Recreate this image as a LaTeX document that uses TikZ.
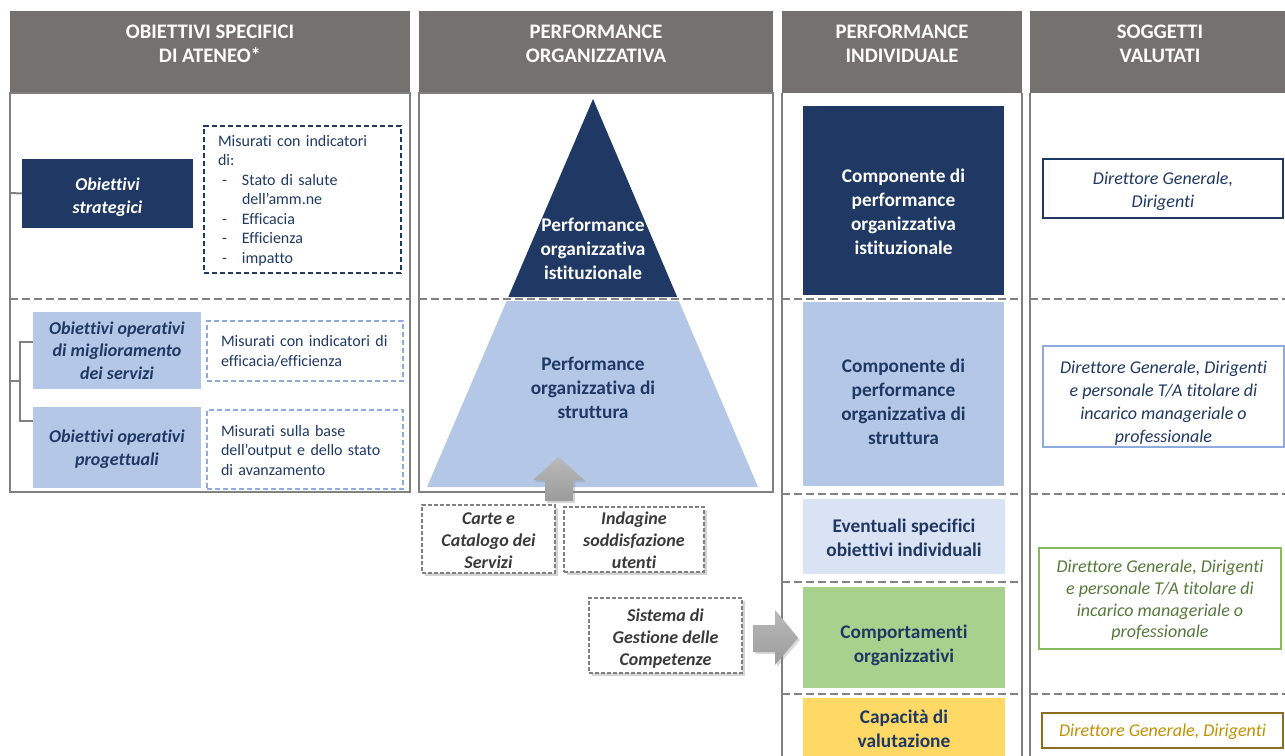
\documentclass[tikz,border=0pt]{standalone}
\usepackage{fontspec}
\setmainfont{Carlito}[Ligatures=NoCommon]
\usetikzlibrary{shadows,calc}
\definecolor{navy}{HTML}{1F3864}
\definecolor{lblue}{HTML}{B4C7E7}
\definecolor{vlblue}{HTML}{DAE3F3}
\definecolor{mblue}{HTML}{8FAADC}
\definecolor{lgreen}{HTML}{A9D18E}
\definecolor{bgreen}{HTML}{86BA5E}
\definecolor{tgreen}{HTML}{55793A}
\definecolor{yell}{HTML}{FFD966}
\definecolor{gold}{HTML}{BF9000}
\definecolor{dgold}{HTML}{8C6D1F}
\definecolor{hdrgray}{HTML}{767171}
\definecolor{bgray}{HTML}{808080}
\definecolor{tgray}{HTML}{3A3A3A}
% box node (#1) from (#2,#3) to (#4,#5), box style #6, text style #7, text y-offset #8 (px), text #9
\newcommand{\bxt}[9]{%
  \node[#6, minimum width={(#4-#2)*0.75pt}, minimum height={(#5-#3)*0.75pt}, inner sep=0pt, outer sep=0pt] (#1) at ({(#2+#4)/2},{(#3+#5)/2}) {};
  \node[#7, inner sep=0pt] (#1-t) at ({(#2+#4)/2},{(#3+#5)/2+#8}) {#9};}
\newcommand{\itm}{\leavevmode\hbox to 18pt{\hspace{3pt}-\hfil}}
\begin{document}
\begin{tikzpicture}[x=0.75pt,y=-0.75pt,
  hdr/.style={fill=hdrgray, draw=none},
  hdrtext/.style={text=white, font=\bfseries\fontsize{15.5}{18}\selectfont, align=center},
  frame/.style={draw=bgray, line width=1.5pt},
  sep/.style={draw=bgray, line width=1.8pt, dash pattern=on 6pt off 3pt},
  darkbox/.style={fill=navy, draw=none},
  litebox/.style={fill=lblue, draw=none},
  wtext/.style={text=white, align=center},
  ntext/.style={text=navy, align=center},
  objfont/.style={font=\bfseries\itshape\fontsize{13.5}{17}\selectfont},
  compfont/.style={font=\bfseries\fontsize{14.5}{18}\selectfont},
  measbox/.style={draw=navy, line width=1.5pt, dash pattern=on 4pt off 2pt},
  measlbox/.style={draw=mblue, line width=1.5pt, dash pattern=on 4pt off 2pt},
  meastext/.style={text=navy, align=left, font=\fontsize{12}{14.6}\selectfont},
  srcbox/.style={draw=bgray, fill=white, line width=1pt, dash pattern=on 3pt off 1.5pt, drop shadow={shadow xshift=2pt, shadow yshift=-2pt, opacity=0.35}},
  srctext/.style={text=tgray, align=center, font=\bfseries\itshape\fontsize{13.5}{16.5}\selectfont},
  subjfont/.style={font=\itshape\fontsize{13.5}{17.25}\selectfont, align=center},
  link/.style={draw=bgray, line width=1.5pt},
  bigarrow/.style={top color=gray!55, bottom color=gray!78, draw=none, drop shadow={shadow xshift=1.5pt, shadow yshift=-1.5pt, opacity=0.3}}
]
\useasboundingbox (0,0) rectangle (1285,756);

% ---------- headers ----------
\bxt{h1}{10}{11}{410}{93}{hdr}{hdrtext}{-8}{OBIETTIVI SPECIFICI\\DI ATENEO*}
\bxt{h2}{419}{11}{773}{93}{hdr}{hdrtext}{-8}{PERFORMANCE\\ORGANIZZATIVA}
\bxt{h3}{782}{11}{1022}{93}{hdr}{hdrtext}{-8}{PERFORMANCE\\INDIVIDUALE}
\bxt{h4}{1030}{11}{1290}{93}{hdr}{hdrtext}{-8}{SOGGETTI\\VALUTATI}

% ---------- frames ----------
\draw[frame] (10,93) rectangle (410,492);
\draw[frame] (419,93) rectangle (773,492);
\draw[frame] (782,93) -- (782,756);
\draw[frame] (1022,93) -- (1022,756);
\draw[frame] (1030,93) -- (1030,756);

% ---------- column 1 ----------
\bxt{os}{22}{159}{193}{228}{darkbox}{wtext,objfont}{3.5}{Obiettivi\\strategici}
\bxt{m1}{204}{126}{401}{273}{measbox}{meastext, text width={(401-204-28)*0.75pt}}{1}{Misurati con indicatori\\di:\\\itm Stato di salute\\\hspace*{18pt}dell’amm.ne\\\itm Efficacia\\\itm Efficienza\\\itm impatto}
\coordinate (l0) at (10,193);
\draw[link] (l0) -- (os.west);

\bxt{oo1}{33}{312}{201}{389}{litebox}{ntext,objfont}{0}{Obiettivi operativi\\di miglioramento\\dei servizi}
\bxt{oo2}{33}{407}{201}{488}{litebox}{ntext,objfont}{1.5}{Obiettivi operativi\\progettuali}
\bxt{m2}{207}{321}{403}{381}{measlbox}{meastext, text width={(403-207-28)*0.75pt}}{0.5}{Misurati con indicatori di\\efficacia/efficienza}
\bxt{m3}{207}{410}{403}{489}{measlbox}{meastext, text width={(403-207-28)*0.75pt}}{1}{Misurati sulla base\\dell’output e dello stato\\di avanzamento}
\coordinate (l1) at (10,381);
\coordinate (bk) at (20,381);
\draw[link] (l1) -- (bk);
\draw[link] (oo1.west |- 0,342) -| (bk) |- (oo2.west |- 0,421);

% ---------- column 2 : pyramid ----------
\fill[navy] (593,99) -- (508.3,297) -- (677.2,297) -- cycle;
\fill[lblue] (506.6,301) -- (678.9,301) -- (758,487) -- (427,487) -- cycle;
\node[wtext, compfont] (pi) at (593,249) {Performance\\organizzativa\\istituzionale};
\node[ntext, compfont] (ps) at (593,388) {Performance\\organizzativa di\\struttura};

% up arrow
\path[bigarrow] (545,501) -- (545,480) -- (533,480) -- (558.5,457) -- (584,480) -- (573,480) -- (573,501) -- cycle;

\bxt{s1}{422}{505}{555}{573}{srcbox}{srctext}{1.5}{Carte e\\Catalogo dei\\Servizi}
\bxt{s2}{564}{507}{704}{572}{srcbox}{srctext}{1}{Indagine\\soddisfazione\\utenti}
\bxt{s3}{589}{598}{742}{673}{srcbox}{srctext}{3}{Sistema di\\Gestione delle\\Competenze}

% right arrow
\path[bigarrow] (753,625) -- (775,625) -- (775,610) -- (798,638) -- (775,665) -- (775,652) -- (753,652) -- cycle;

% ---------- column 3 ----------
\bxt{c1}{803}{106}{1004}{295}{darkbox}{wtext,compfont}{11.5}{Componente di\\performance\\organizzativa\\istituzionale}
\bxt{c2}{803}{302}{1004}{486}{litebox}{ntext,compfont}{8}{Componente di\\performance\\organizzativa di\\struttura}
\bxt{c3}{803}{499}{1005}{574}{fill=vlblue}{ntext,compfont}{1}{Eventuali specifici\\obiettivi individuali}
\bxt{c4}{803}{587}{1005}{688}{fill=lgreen}{ntext,compfont}{7.5}{Comportamenti\\organizzativi}
\bxt{c5}{803}{698}{1005}{760}{fill=yell}{ntext,compfont}{0}{Capacità di\\valutazione}

% ---------- column 4 ----------
\bxt{v1}{1043}{159}{1283}{218}{draw=navy,line width=1.2pt}{text=navy,subjfont}{3}{Direttore Generale,\\Dirigenti}
\bxt{v2}{1043}{346}{1284}{447}{draw=mblue,line width=1.2pt}{text=navy,subjfont}{6.5}{Direttore Generale, Dirigenti\\e personale T/A titolare di\\incarico manageriale o\\professionale}
\bxt{v3}{1039}{548}{1281}{649}{draw=bgreen,line width=1.2pt}{text=tgreen,subjfont,font=\itshape\fontsize{13.5}{16.3}\selectfont}{2}{Direttore Generale, Dirigenti\\e personale T/A titolare di\\incarico manageriale o\\professionale}
\bxt{v4}{1042}{713}{1283}{748}{draw=dgold,line width=1.5pt}{text=gold,subjfont}{1}{Direttore Generale, Dirigenti}

% ---------- separators ----------
\draw[sep] (10,299) -- (410,299);
\draw[sep] (419,299) -- (773,299);
\draw[sep] (782,299) -- (1022,299);
\draw[sep] (782,494) -- (1022,494);
\draw[sep] (782,582) -- (1022,582);
\draw[sep] (782,694) -- (1022,694);
\draw[sep] (1030,299) -- (1285,299);
\draw[sep] (1030,494) -- (1285,494);
\draw[sep] (1030,694) -- (1285,694);
\end{tikzpicture}
\end{document}
